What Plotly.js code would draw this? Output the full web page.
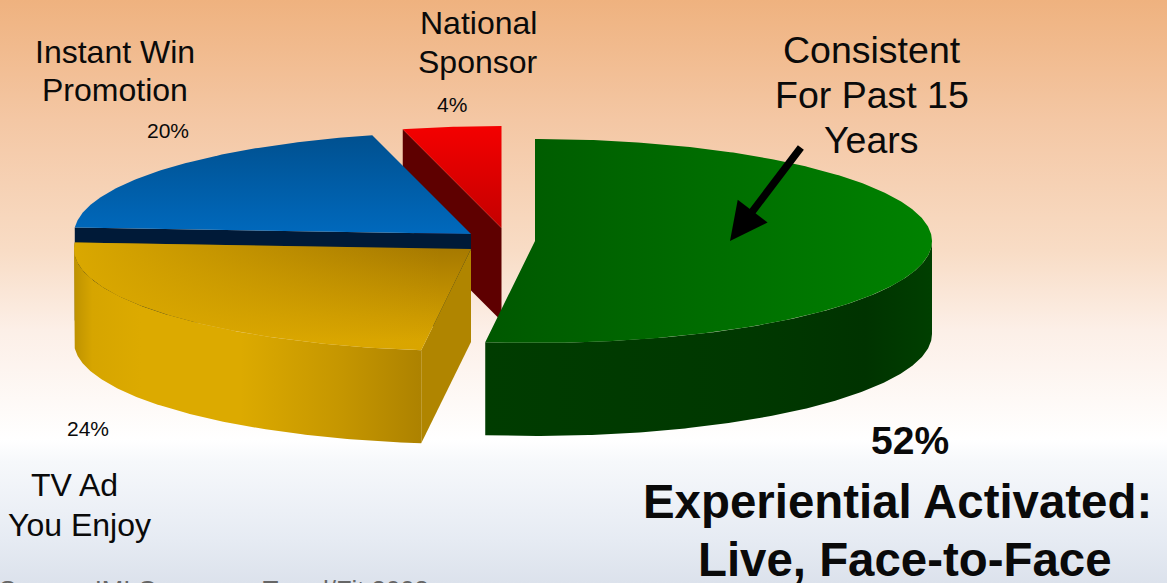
<!DOCTYPE html>
<html><head><meta charset="utf-8">
<script src="https://cdn.plot.ly/plotly-3.0.1.min.js"></script>
<style>
html,body{margin:0;padding:0;width:1167px;height:583px;overflow:hidden}
#chart{width:1167px;height:583px;background:linear-gradient(180deg,#efb27f 0px,#f4c7a4 120px,#f8dcc5 250px,#fcefe7 330px,#ffffff 440px,#f6f8fb 462px,#e6ebf3 540px,#dce2ec 583px)}
</style></head><body><div id="chart"></div>
<script>
// Data
const categories = ['Experiential Activated', 'TV Ad You Enjoy', 'Instant Win Promotion', 'National Sponsor'];
const shares = [52, 24, 20, 4];
const percentLabels = ['52%', '24%', '20%', '4%'];
// Pie drawing parameters (exploded, tilted ellipse)
const rx = 397, ry = 102, depth = 93;
const centers = [[535, 241], [471, 249], [471, 234], [501.5, 228]];

const total = shares.reduce((a, b) => a + b, 0);
let acc = 0;
const angles = shares.map(v => { const s = acc; acc += v; return [s / total * 360, acc / total * 360]; });
const pt = (c, deg, dy) => [c[0] + rx * Math.sin(deg * Math.PI / 180), c[1] - ry * Math.cos(deg * Math.PI / 180) + (dy || 0)];
function arc(c, a0, a1, dy) {
  const out = [], n = Math.max(8, Math.ceil(Math.abs(a1 - a0) * 2));
  for (let i = 0; i <= n; i++) out.push(pt(c, a0 + (a1 - a0) * i / n, dy));
  return out;
}
function poly(points, grad) {
  const closed = points.concat([points[0]]);
  return { type: 'scatter', mode: 'lines', x: closed.map(p => p[0]), y: closed.map(p => p[1]),
    fill: 'toself', fillgradient: grad, line: { width: 0 }, hoverinfo: 'skip', showlegend: false };
}
const H = (start, stop, cols) => ({ type: 'horizontal', start, stop, colorscale: cols });
const V = (start, stop, cols) => ({ type: 'vertical', start, stop, colorscale: cols });
const topFace = (i) => [centers[i]].concat(arc(centers[i], angles[i][0], angles[i][1]));
const outer = (i, a0, a1) => arc(centers[i], a0, a1).concat(arc(centers[i], a1, a0, depth));
const radial = (i, a) => {
  const c = centers[i], p = pt(c, a);
  return [c, p, [p[0], p[1] + depth], [c[0], c[1] + depth]];
};
const G = 0, Y = 1, B = 2, R = 3;
const traces = [
  poly(radial(R, angles[R][0]), H(0, 1167, [[0, '#5e0000'], [1, '#5e0000']])),
  poly(topFace(R), V(126, 228, [[0, '#f40000'], [1, '#c40000']])),
  poly(radial(B, angles[B][0]), H(0, 1167, [[0, '#001a38'], [1, '#001a38']])),
  poly(topFace(B), V(134, 234, [[0, '#00508f'], [1, '#0069bd']])),
  poly(outer(Y, angles[Y][0], 270), H(75, 421, [[0, '#bf9300'], [0.05, '#d6a500'], [0.19, '#dcaa00'], [0.48, '#dcaa00'], [0.77, '#c59600'], [1, '#ad8200']])),
  poly(radial(Y, angles[Y][0]), H(0, 1167, [[0, '#b08500'], [1, '#b08500']])),
  poly(topFace(Y), V(248, 342, [[0, '#a67900'], [1, '#d9a500']])),
  poly(topFace(Y), H(75, 440, [[0, 'rgba(220,170,0,0.95)'], [0.3, 'rgba(220,170,0,0.65)'], [1, 'rgba(220,170,0,0)']])),
  poly(outer(G, 90, angles[G][1]), H(486, 932, [[0, '#003c00'], [0.6, '#003800'], [0.85, '#003300'], [1, '#003f00']])),
  poly(topFace(G), H(486, 932, [[0, '#005800'], [1, '#008200']]))
];

const txt = (text, x, y, size, extra) => Object.assign({
  text, x, y, xref: 'x', yref: 'y', showarrow: false, xanchor: 'center', yanchor: 'middle',
  font: { family: 'Liberation Sans, Arial, sans-serif', size, color: '#0a0a0a' }
}, extra || {});
const annotations = [
  txt('Instant Win', 115, 52, 32), txt('Promotion', 115, 90, 32),
  txt('National', 478, 23, 32), txt('Sponsor', 478, 62, 32),
  txt(percentLabels[3], 452, 104, 21), txt(percentLabels[2], 168, 130, 21),
  txt(percentLabels[1], 88, 428, 21),
  txt('TV Ad', 74.5, 485, 32), txt('You Enjoy', 79, 525, 32),
  txt('Consistent', 871.5, 50, 37.5), txt('For Past 15', 871.5, 95, 37.5), txt('Years', 871.5, 140, 37.5),
  txt('<b>' + percentLabels[0] + '</b>', 910, 440, 39),
  txt('<b>Experiential Activated:</b>', 897, 501, 47.4),
  txt('<b>Live, Face-to-Face</b>', 905, 559, 47.4),
  { text: 'Source: IMI Consumer Trend/Fit 2008', x: 0, y: 0, xref: 'paper', yref: 'paper', xanchor: 'left', yanchor: 'top',
    xshift: -3, yshift: 9, showarrow: false, font: { family: 'Liberation Sans, Arial, sans-serif', size: 25.7, color: '#666' } },
  { x: 730, y: 241, ax: 802, ay: 146, xref: 'x', yref: 'y', axref: 'x', ayref: 'y', text: '',
    showarrow: true, arrowhead: 2, arrowsize: 1, arrowwidth: 7.5, arrowcolor: '#000' }
];
Plotly.newPlot('chart', traces, {
  width: 1167, height: 583, margin: { l: 0, r: 0, t: 0, b: 0 },
  paper_bgcolor: 'rgba(0,0,0,0)', plot_bgcolor: 'rgba(0,0,0,0)',
  xaxis: { range: [0, 1167], visible: false, fixedrange: true },
  yaxis: { range: [583, 0], visible: false, fixedrange: true },
  showlegend: false, annotations
}, { displayModeBar: false, staticPlot: true });
</script></body></html>
